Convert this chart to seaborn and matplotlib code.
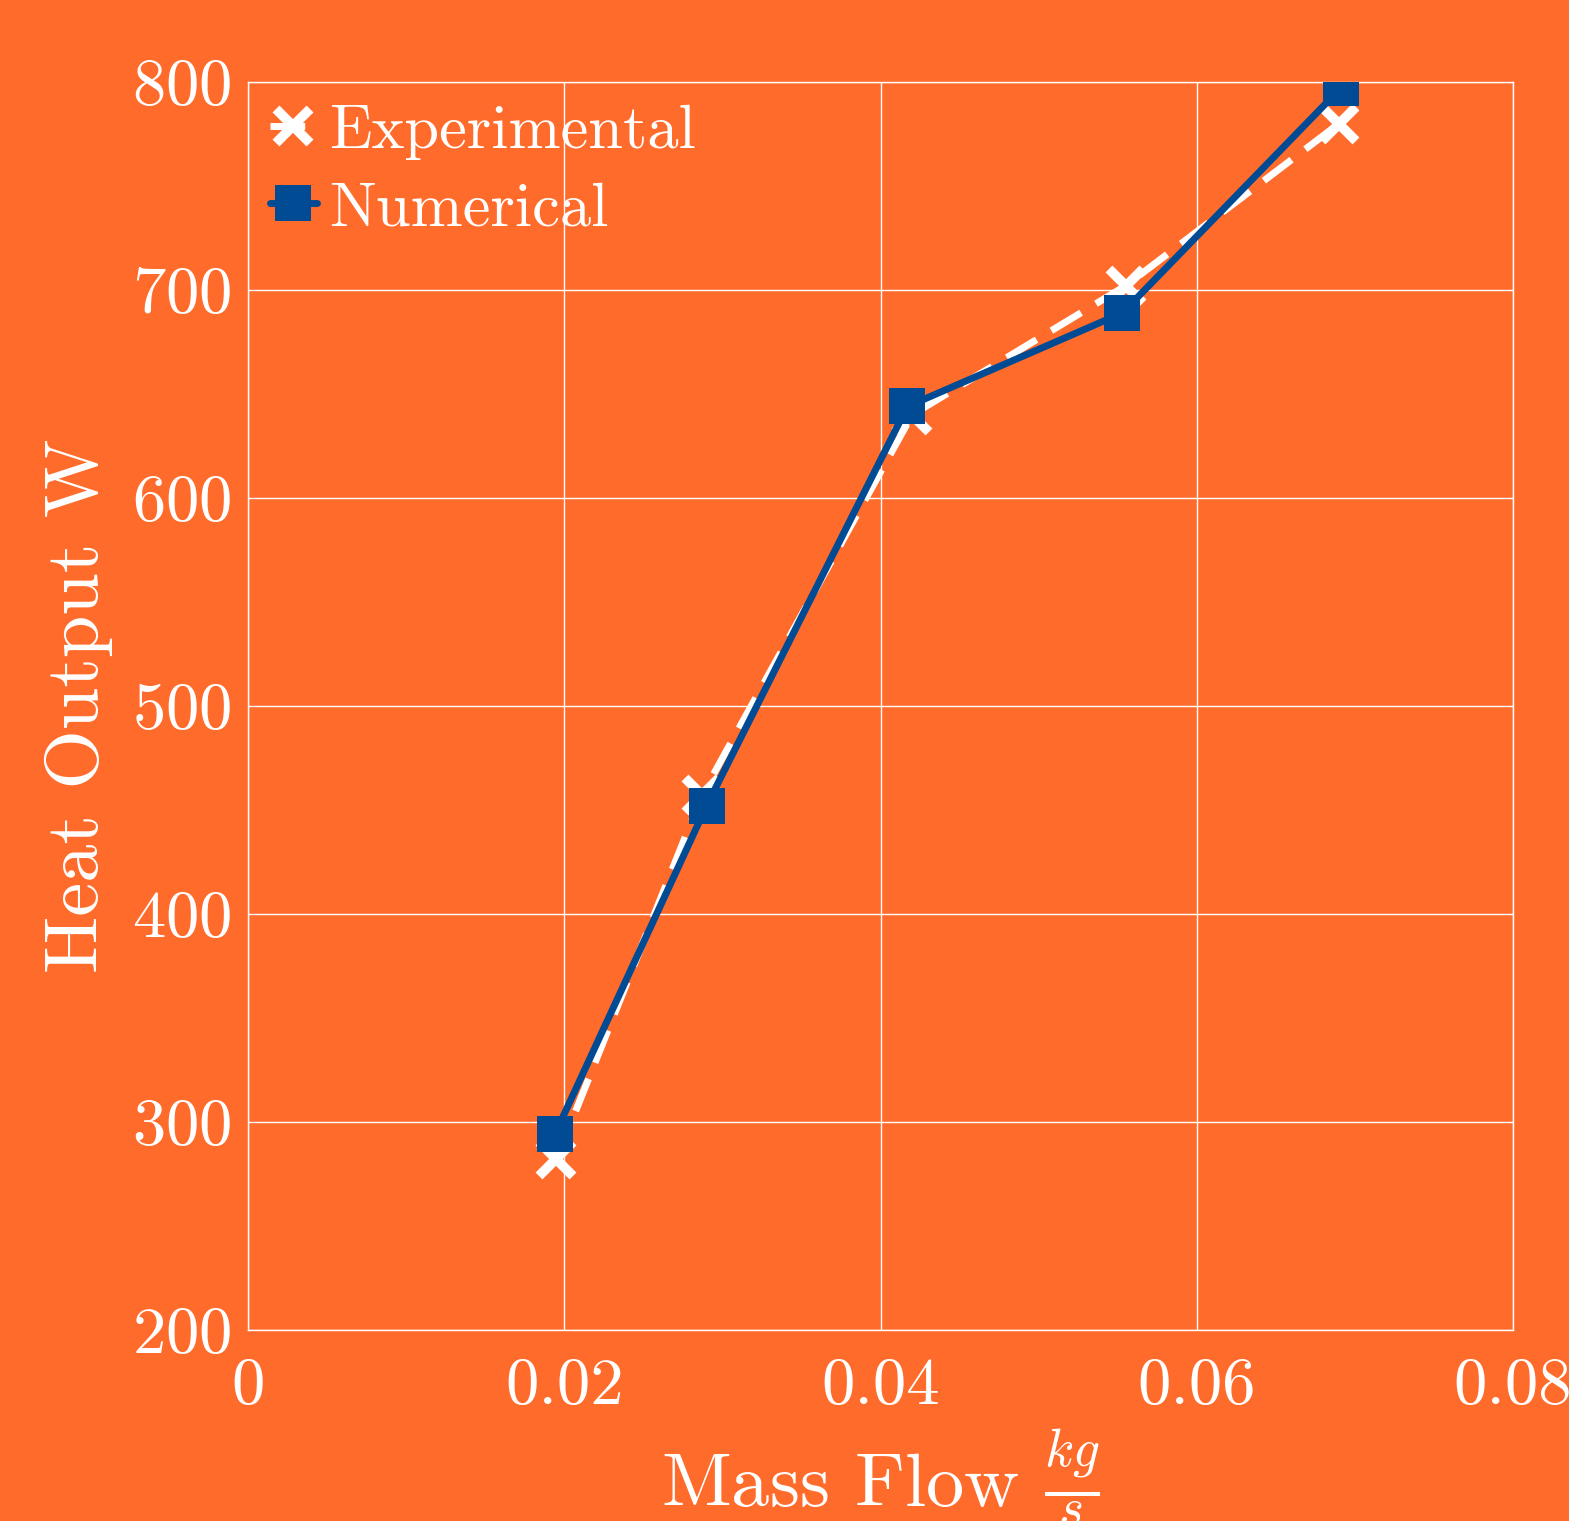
import matplotlib
matplotlib.use("Agg")
import matplotlib.pyplot as plt
import seaborn as sns
import pandas as pd

# Measured and simulated heat output against mass flow
exp_flow = [0.0195, 0.0287, 0.0420, 0.0555, 0.0690]
exp_heat = [282, 457, 640, 702, 780]
num_flow = [0.0194, 0.0290, 0.0417, 0.0553, 0.0691]
num_heat = [294, 452, 644, 689, 797]

x_ticks = [0, 0.02, 0.04, 0.06, 0.08]
x_tick_labels = ["0", "0.02", "0.04", "0.06", "0.08"]
y_ticks = [200, 300, 400, 500, 600, 700, 800]

ORANGE = "#FF6B2B"
BLUE = "#004B93"
WHITE = "#FFFFFF"

sns.set_theme(style="white")
plt.rcParams["font.family"] = ["cmr10", "DejaVu Serif"]
plt.rcParams["mathtext.fontset"] = "cm"
plt.rcParams["axes.formatter.use_mathtext"] = True

exp_df = pd.DataFrame({"flow": exp_flow, "heat": exp_heat})
num_df = pd.DataFrame({"flow": num_flow, "heat": num_heat})

fig = plt.figure(figsize=(15.69, 15.21), dpi=100, facecolor=ORANGE)
ax = fig.add_axes([248 / 1569, 1 - 1330 / 1521, (1513 - 248) / 1569, (1330 - 82) / 1521])
ax.set_facecolor(ORANGE)

sns.lineplot(data=exp_df, x="flow", y="heat", ax=ax, color=WHITE, linewidth=5,
             linestyle=(0, (5, 2.5)), marker="x", markersize=24,
             markeredgewidth=7, markeredgecolor=WHITE, label="Experimental",
             sort=False, zorder=3)
sns.lineplot(data=num_df, x="flow", y="heat", ax=ax, color=BLUE, linewidth=5,
             marker="s", markersize=26, markeredgewidth=0, markerfacecolor=BLUE,
             label="Numerical", sort=False, zorder=4)

ax.set_xlim(0, 0.08)
ax.set_ylim(200, 800)
ax.set_xticks(x_ticks)
ax.set_xticklabels(x_tick_labels)
ax.set_yticks(y_ticks)
ax.tick_params(axis="both", colors=WHITE, labelsize=48, length=0)
ax.tick_params(axis="x", pad=20)
ax.tick_params(axis="y", pad=12)
ax.grid(True, color=WHITE, linewidth=1.0)
ax.set_axisbelow(True)
for sp in ax.spines.values():
    sp.set_color(WHITE)
    sp.set_linewidth(1.0)

ax.set_xlabel(r"Mass Flow $\frac{kg}{s}$", fontsize=55, color=WHITE, labelpad=7)
ax.set_ylabel("Heat Output W", fontsize=55, color=WHITE, labelpad=14)

leg = ax.legend(loc="upper left", frameon=False, fontsize=45, handlelength=0.75,
                handletextpad=0.2, borderaxespad=0.15, borderpad=0.2,
                labelspacing=0.35, labelcolor=WHITE)

fig.savefig("out.png", dpi=100, facecolor=ORANGE)
